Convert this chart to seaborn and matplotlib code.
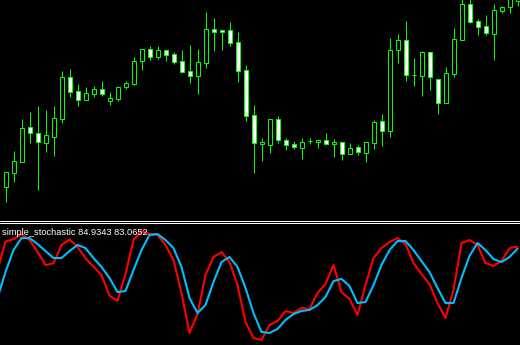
import matplotlib
matplotlib.use("Agg")
import matplotlib.pyplot as plt
from matplotlib.lines import Line2D
import numpy as np
import seaborn as sns

# ---- price data (candles) ----
opens  = [33, 47, 58, 93, 87, 77, 83, 101, 143, 129, 120, 126, 131, 119, 121, 133,
          136, 159, 171, 163, 170, 166, 159, 149, 144, 157, 191, 190, 190, 178, 150, 105,
          76, 75, 101, 80, 76, 72, 79, 78, 80, 76, 78, 66, 73, 67, 77, 99,
          89, 170, 180, 145, 144, 168, 141, 117, 146, 180, 216, 199, 194, 186, 209, 213, 219]
highs  = [48, 69, 101, 108, 114, 110, 114, 149, 151, 136, 133, 134, 139, 128, 134, 139,
          163, 171, 174, 174, 170, 168, 170, 175, 171, 208, 202, 191, 198, 188, 155, 115,
          82, 101, 104, 82, 79, 82, 82, 80, 87, 81, 78, 77, 75, 78, 100, 106,
          182, 186, 199, 162, 169, 168, 141, 153, 192, 225, 225, 201, 205, 216, 214, 225, 228]
lows   = [18, 38, 58, 77, 30, 68, 64, 97, 123, 114, 120, 123, 124, 115, 119, 131,
          135, 150, 160, 161, 159, 156, 147, 137, 126, 152, 169, 170, 174, 138, 99, 47,
          59, 67, 77, 70, 71, 61, 76, 72, 75, 63, 60, 66, 65, 58, 71, 74,
          83, 157, 139, 134, 124, 130, 106, 117, 143, 180, 197, 185, 185, 160, 207, 207, 214]
closes = [48, 59, 92, 87, 78, 85, 102, 143, 128, 120, 127, 131, 126, 122, 133, 137,
          159, 171, 163, 170, 165, 158, 148, 144, 158, 191, 188, 188, 177, 149, 104, 77,
          78, 101, 80, 75, 73, 78, 79, 80, 76, 78, 66, 72, 68, 78, 98, 89,
          170, 180, 145, 145, 168, 143, 117, 147, 181, 216, 198, 193, 187, 210, 213, 222, 225]

# ---- stochastic data (index starts one bar before the first visible candle) ----
stoch_main = [63.6, 89.4, 91.8, 96.1, 90.9, 80.3, 68.2, 69.7, 86.4, 91.5, 84.8, 74.3, 66.6,
              59.1, 40.3, 35.5, 60.0, 90.9, 99.1, 96.4, 95.5, 86.4, 72.7, 42.7, 6.4, 23.6,
              59.1, 75.5, 80.0, 70.9, 50.0, 16.4, 1.8, 0.0, 13.6, 17.3, 26.4, 24.5, 29.1,
              28.2, 42.7, 50.9, 68.2, 43.6, 37.3, 22.7, 50.0, 74.5, 83.6, 89.1, 92.7, 87.3,
              70.0, 60.0, 50.9, 33.6, 20.0, 45.5, 88.2, 90.9, 86.4, 70.0, 67.3, 71.8, 83.6, 84.93]
stoch_signal = [38.2, 61.8, 81.8, 92.7, 92.7, 87.3, 80.9, 74.5, 74.5, 80.9, 86.4, 83.6, 74.5,
                66.4, 56.4, 43.6, 44.5, 63.6, 81.8, 95.5, 96.4, 90.9, 83.6, 66.4, 38.2, 24.5,
                31.8, 52.7, 70.9, 75.5, 66.4, 47.3, 24.5, 7.3, 6.4, 10.0, 18.2, 23.6, 26.4,
                27.3, 31.8, 39.1, 53.6, 55.5, 49.1, 33.6, 34.5, 50.0, 68.2, 81.8, 90.0, 90.0,
                81.8, 71.8, 61.8, 47.3, 33.6, 33.6, 56.4, 76.4, 88.2, 81.8, 73.6, 70.9, 75.5, 83.07]
label = "simple_stochastic 84.9343 83.0652"

sns.set_style("dark", {"axes.facecolor": "black", "figure.facecolor": "black"})

W, H = 520, 345
fig = plt.figure(figsize=(W / 100, H / 100), dpi=100, facecolor="black")
ax1 = fig.add_axes([0, (H - 219) / H, 1, 219 / H])
ax2 = fig.add_axes([0, 0, 1, 122 / H])
for ax in (ax1, ax2):
    ax.set_facecolor("black")
    ax.set_xticks([]); ax.set_yticks([])
    for s in ax.spines.values():
        s.set_visible(False)
    ax.set_xlim(-0.6875, 64.3125)

GREEN = "#00FF00"
PX = 0.72  # one pixel in points
xs = np.arange(len(opens))
o = np.array(opens); c = np.array(closes)
bull = c >= o
ax1.vlines(xs, lows, highs, color=GREEN, lw=PX, zorder=1)
bottoms = np.minimum(o, c)
heights = np.abs(c - o)
ax1.bar(xs[bull], heights[bull], bottom=bottoms[bull], width=0.5,
        color="black", edgecolor=GREEN, linewidth=PX, zorder=2)
ax1.bar(xs[~bull], heights[~bull], bottom=bottoms[~bull], width=0.5,
        color="white", edgecolor=GREEN, linewidth=PX, zorder=2)
ax1.set_ylim(0.5, 219.5)

sx = np.arange(-1, len(stoch_main) - 1)
sns.lineplot(x=sx, y=stoch_main, ax=ax2, color="#FF0000", lw=1.5)
sns.lineplot(x=sx, y=stoch_signal, ax=ax2, color="#00BFFF", lw=1.5)
ax2.set_ylim(-4.55, 106.4)
ax2.set_xlabel(""); ax2.set_ylabel("")

for yp in (220.5, 222.5):
    fig.add_artist(Line2D([0, 1], [1 - yp / H, 1 - yp / H], color="white", lw=PX,
                          transform=fig.transFigure))

fig.text(2 / W, 1 - 235 / H, label, color="white", fontsize=6.7,
         family="Liberation Sans", va="baseline", ha="left")

fig.savefig("out.png", dpi=100, facecolor="black")
